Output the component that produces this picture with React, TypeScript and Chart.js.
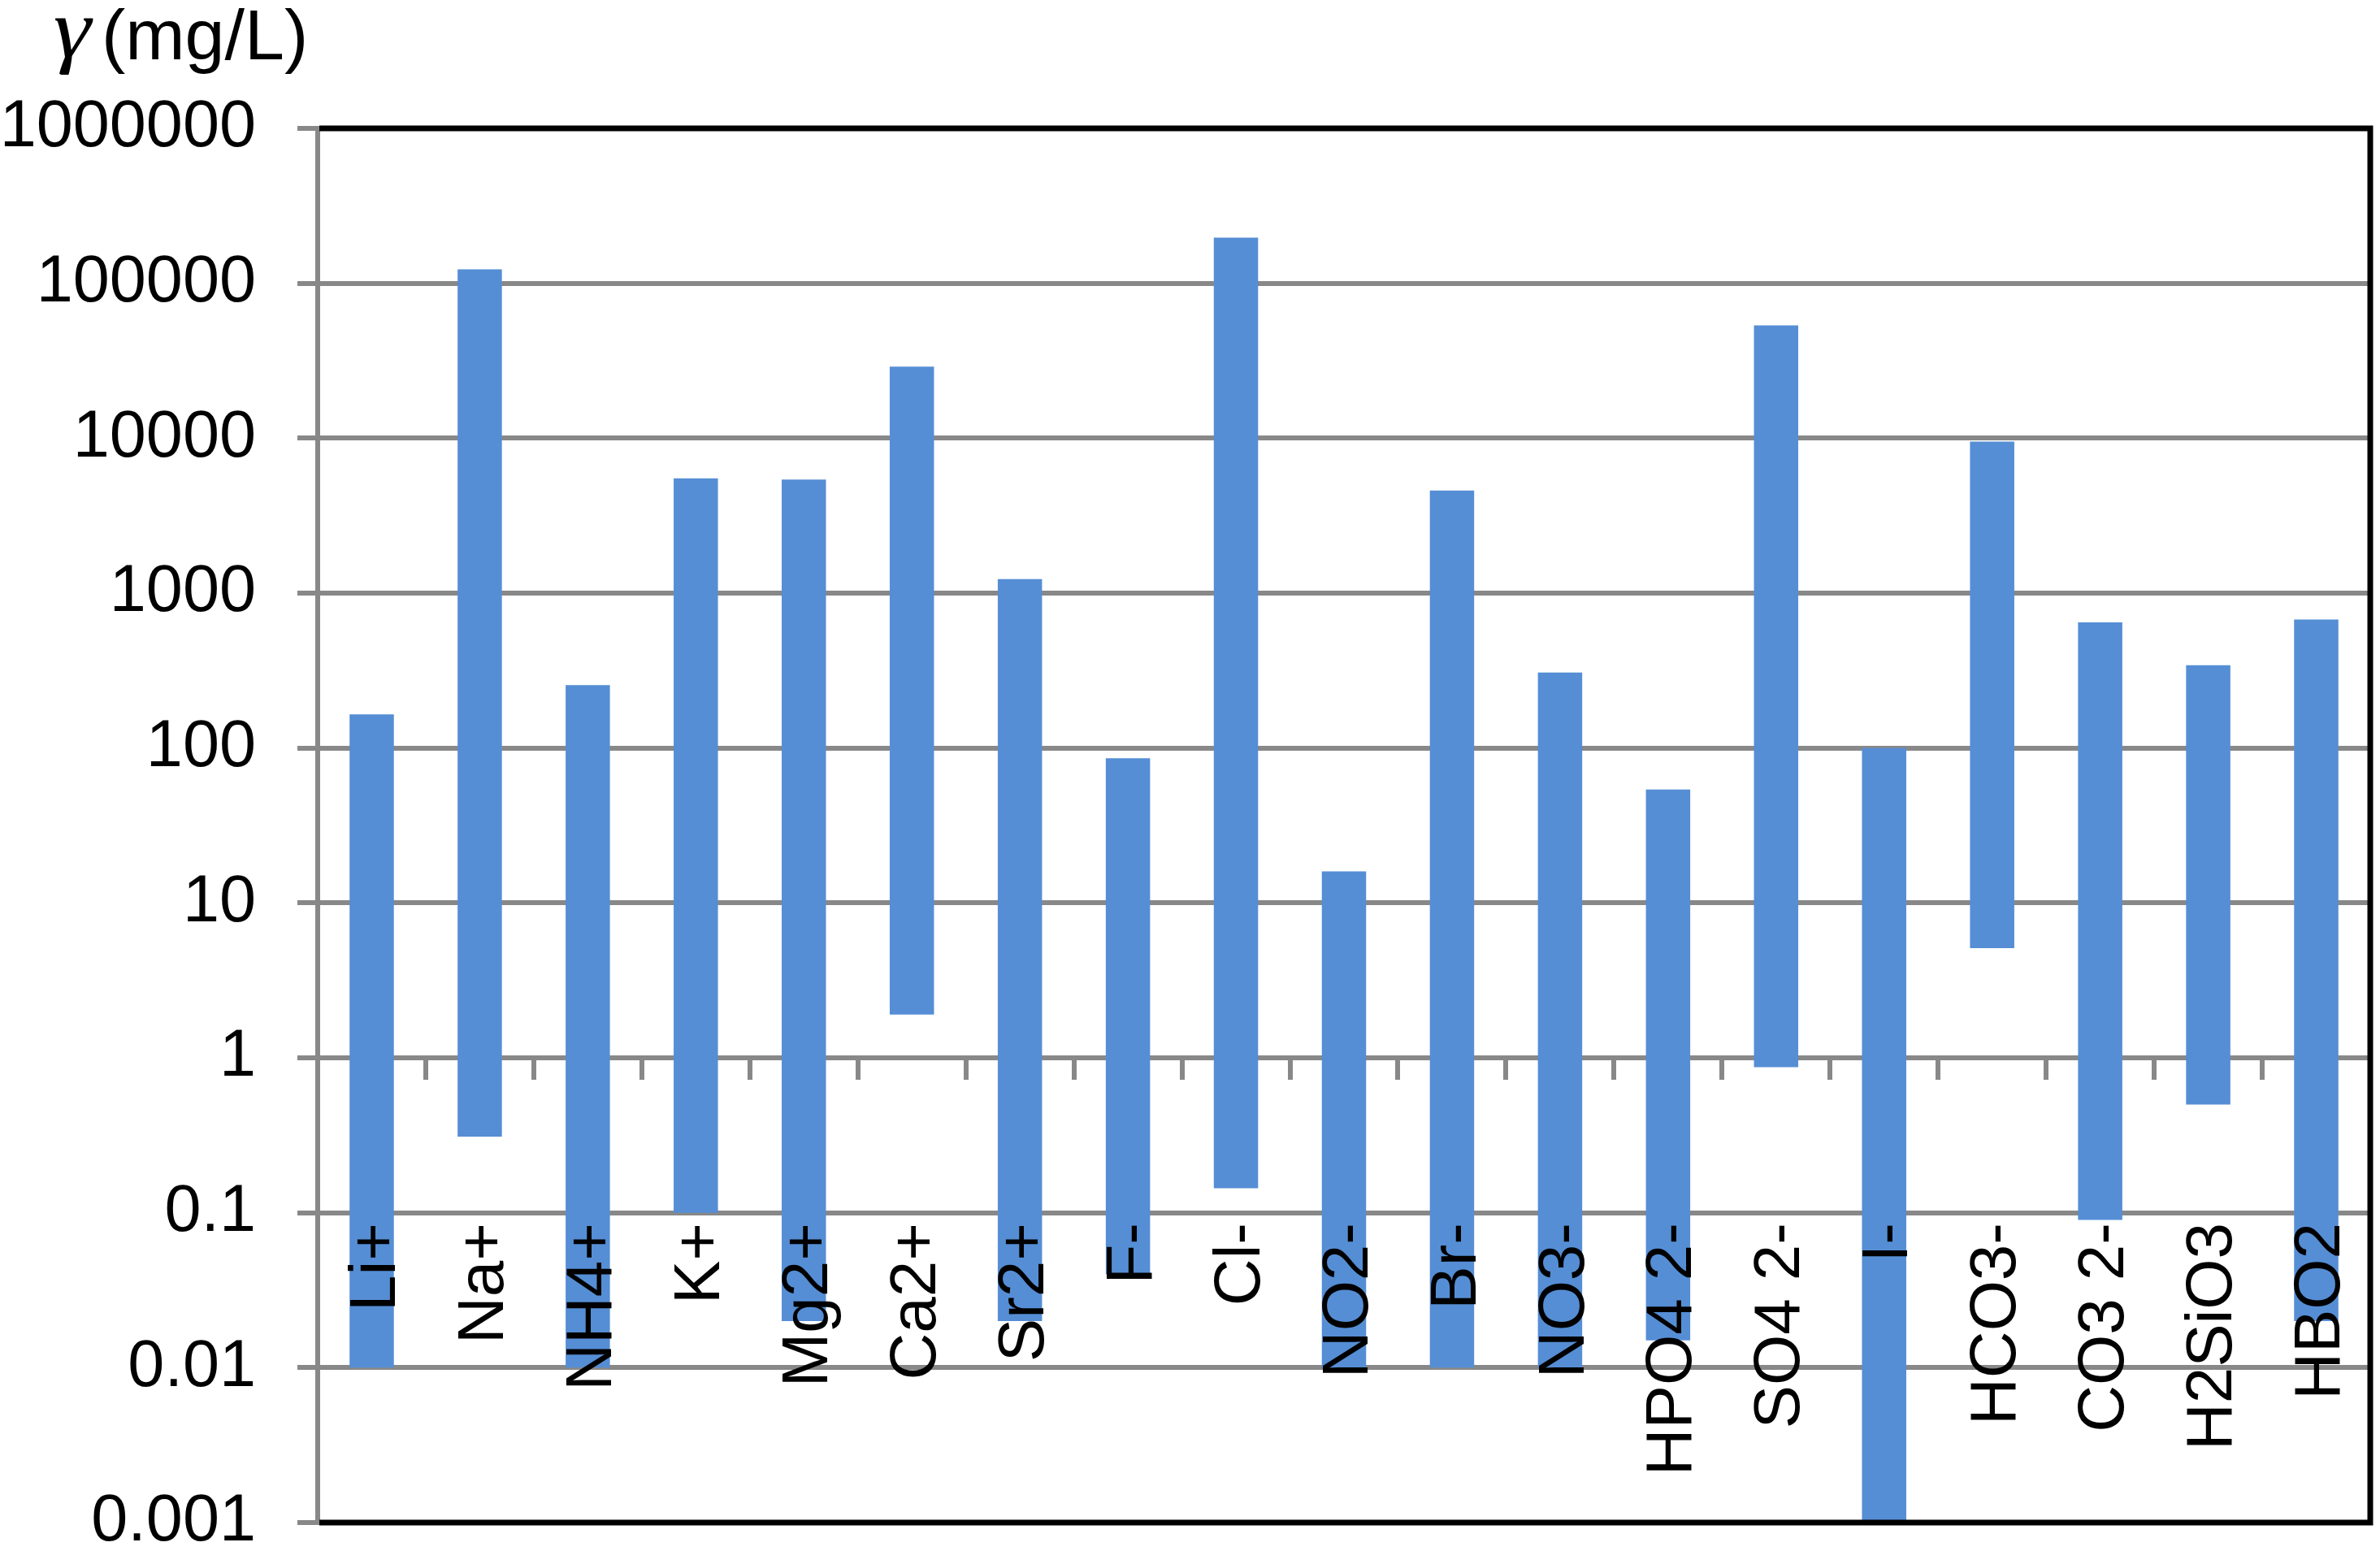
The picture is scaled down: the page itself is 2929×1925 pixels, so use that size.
import React, { useEffect, useRef } from 'react';
import { Chart, registerables } from 'chart.js';

Chart.register(...registerables);

const categories = ['Li+', 'Na+', 'NH4+', 'K+', 'Mg2+', 'Ca2+', 'Sr2+', 'F-', 'Cl-', 'NO2-', 'Br-', 'NO3-', 'HPO4 2-', 'SO4 2-', 'I-', 'HCO3-', 'CO3 2-', 'H2SiO3', 'HBO2'];
const lowValues = [0.01, 0.31, 0.01, 0.1, 0.02, 1.9, 0.02, 0.04, 0.144, 0.01, 0.01, 0.01, 0.015, 0.87, 0.001, 5.1, 0.09, 0.5, 0.02];
const highValues = [165, 123000, 255, 5500, 5400, 29000, 1230, 86, 197000, 16, 4600, 307, 54, 53500, 100, 9500, 648, 342, 675];
const yTickValues = [0.001, 0.01, 0.1, 1, 10, 100, 1000, 10000, 100000, 1000000];
const yTickLabels = ['0.001', '0.01', '0.1', '1', '10', '100', '1000', '10000', '100000', '1000000'];
const axisCrossValue = 1;
const titleSymbol = 'γ';
const titleUnit = '(mg/L)';

const W = 2929;
const H = 1925;
const GRAY = '#888888';
const BLUE = '#558ED5';
const SANS = '"Liberation Sans", Arial, sans-serif';

const overlayPlugin = {
  id: 'overlay',
  beforeDatasetsDraw(chart: any) {
    const { ctx, chartArea, scales } = chart;
    const yc = scales.y.getPixelForValue(axisCrossValue);
    const n = categories.length;
    const step = (chartArea.right - chartArea.left) / n;
    ctx.save();
    ctx.strokeStyle = GRAY;
    ctx.lineWidth = 6;
    for (let k = 1; k < n; k++) {
      const px = Math.round(chartArea.left + k * step);
      ctx.beginPath();
      ctx.moveTo(px, yc);
      ctx.lineTo(px, yc + 27);
      ctx.stroke();
    }
    ctx.restore();
  },
  afterDatasetsDraw(chart: any) {
    const { ctx, chartArea, scales } = chart;
    // category labels, rotated
    ctx.save();
    ctx.fillStyle = '#000000';
    ctx.font = `80px ${SANS}`;
    ctx.textAlign = 'right';
    ctx.textBaseline = 'alphabetic';
    const labelTop = 1505;
    const capHalf = (0.716 * 80) / 2;
    categories.forEach((c, i) => {
      const cx = scales.x.getPixelForValue(i);
      ctx.save();
      ctx.translate(cx, labelTop);
      ctx.rotate(-Math.PI / 2);
      ctx.fillText(c, 0, capHalf);
      ctx.restore();
    });
    ctx.restore();

    // black frame: top, right, bottom
    ctx.save();
    ctx.strokeStyle = '#000000';
    ctx.lineWidth = 7;
    ctx.lineJoin = 'miter';
    ctx.beginPath();
    ctx.moveTo(chartArea.left + 2, chartArea.top);
    ctx.lineTo(chartArea.right, chartArea.top);
    ctx.lineTo(chartArea.right, chartArea.bottom);
    ctx.lineTo(chartArea.left + 2, chartArea.bottom);
    ctx.stroke();
    ctx.restore();

    // title: italic gamma fitted to its box, then unit
    ctx.save();
    ctx.fillStyle = '#000000';
    ctx.textAlign = 'left';
    ctx.textBaseline = 'alphabetic';
    const base = 100;
    ctx.font = `italic ${base}px "Liberation Serif", "Times New Roman", serif`;
    const m = ctx.measureText(titleSymbol);
    const gw = m.actualBoundingBoxLeft + m.actualBoundingBoxRight;
    const gh = m.actualBoundingBoxAscent + m.actualBoundingBoxDescent;
    const boxL = 67, boxR = 115, boxT = 23, boxB = 92;
    const sx = (boxR - boxL) / gw;
    const sy = (boxB - boxT) / gh;
    ctx.save();
    ctx.translate(boxL, boxT);
    ctx.scale(sx, sy);
    ctx.fillText(titleSymbol, m.actualBoundingBoxLeft, m.actualBoundingBoxAscent);
    ctx.restore();
    ctx.font = `88px ${SANS}`;
    ctx.fillText(titleUnit, 125, 73);
    ctx.restore();
  },
};

export default function App() {
  const canvasRef = useRef<HTMLCanvasElement | null>(null);

  useEffect(() => {
    const canvas = canvasRef.current;
    if (!canvas) return;
    const data = categories.map((_, i) => [lowValues[i], highValues[i]]);
    const chart = new Chart(canvas, {
      type: 'bar',
      data: {
        labels: categories,
        datasets: [
          {
            data: data as any,
            backgroundColor: BLUE,
            borderWidth: 0,
            categoryPercentage: 1,
            barPercentage: 0.41,
          },
        ],
      },
      options: {
        responsive: false,
        devicePixelRatio: 1,
        animation: false,
        layout: { padding: { left: 0, top: 158, right: 12, bottom: 51 } },
        plugins: {
          legend: { display: false },
          tooltip: { enabled: false },
        },
        scales: {
          x: {
            type: 'category',
            display: false,
            offset: true,
          },
          y: {
            type: 'logarithmic',
            min: 0.001,
            max: 1000000,
            afterBuildTicks: (scale: any) => {
              scale.ticks = yTickValues.map((v) => ({ value: v, major: true }));
            },
            afterFit: (scale: any) => {
              scale.width = 391;
              scale.paddingTop = 0;
              scale.paddingBottom = 0;
            },
            ticks: {
              autoSkip: false,
              padding: 51,
              color: '#000000',
              font: { family: SANS, size: 81 },
              callback: (value: any, index: number) => yTickLabels[index],
            },
            grid: {
              color: GRAY,
              lineWidth: 6,
              tickLength: 25,
              drawTicks: true,
            },
            border: { display: true, color: GRAY, width: 6 },
          },
        },
      },
      plugins: [overlayPlugin],
    });
    return () => chart.destroy();
  }, []);

  return (
    <div style={{ position: 'absolute', left: 0, top: 0, width: W, height: H, background: '#ffffff' }}>
      <canvas ref={canvasRef} width={W} height={H} style={{ width: W, height: H, display: 'block' }} />
    </div>
  );
}
